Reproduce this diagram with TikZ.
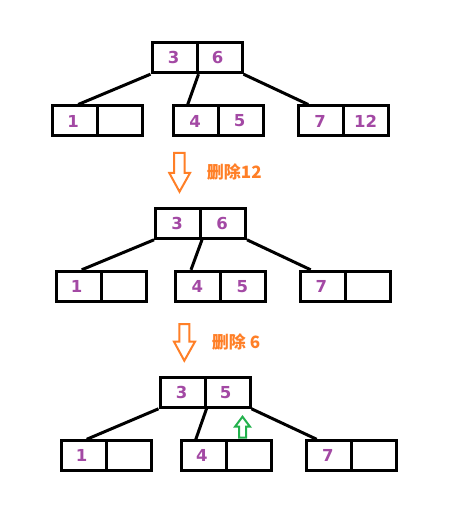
\documentclass[tikz,border=0pt]{standalone}
\usepackage{fontspec}
\setmainfont{DejaVu Sans}
\newfontfamily\cjkfont{Noto Sans CJK SC}
\usetikzlibrary{calc}
\definecolor{numpurple}{HTML}{A349A4}
\definecolor{delorange}{HTML}{FF7F27}
\definecolor{upgreen}{HTML}{22B14C}
\begin{document}
\begin{tikzpicture}[x=1pt,y=-1pt,
  cell/.style={draw=black,line width=3pt,minimum width=45pt,minimum height=30pt,inner sep=0pt,
    font=\fontsize{16.5}{16.5}\selectfont\bfseries,text=numpurple},
  link/.style={draw=black,line width=3pt},
  lbl/.style={font=\cjkfont\fontsize{17}{17}\selectfont\bfseries,text=delorange,anchor=west,inner sep=0pt},
  hollow/.style={draw=delorange,line width=2pt,fill=white,line join=miter},
  uparrow/.style={draw=upgreen,line width=2pt,fill=white,line join=miter}]
\useasboundingbox (0,0) rectangle (472,521);
% ---------- tree 1 ----------
\node[cell] (a1) at (174.5,57.7) {\raisebox{-2pt}{3}\hspace*{2pt}};
\node[cell] (a2) at (219.5,57.7) {\raisebox{-2pt}{6}\hspace*{4pt}};
\node[cell] (a3) at (75.2,121) {\raisebox{-1pt}{1}\hspace*{4pt}};
\node[cell] (a4) at (120.2,121) {};
\node[cell] (a5) at (196.2,121) {\raisebox{-1pt}{4}\hspace*{2pt}};
\node[cell] (a6) at (240.7,121) {\raisebox{-1pt}{5}\hspace*{2pt}};
\node[cell] (a7) at (321.2,121) {\raisebox{-1pt}{7}\hspace*{2pt}};
\node[cell] (a8) at (365.7,121) {\raisebox{-1pt}{12}};
\draw[link] (a1.south west) -- ($(a3.north)+(3,0)$);
\draw[link] (a1.south east) -- ($(a5.north)+(-8.5,0)$);
\draw[link] (a2.south east) -- ($(a7.north)+(-13,0)$);
% ---------- arrow 1 ----------
\draw[hollow] (174,153) -- (184.7,153) -- (184.7,173) -- (190,173) -- (179.5,191.7) -- (169.3,173) -- (174,173) -- cycle;
\node[lbl] (t1) at (206.7,171.7) {删除12};
% ---------- tree 2 ----------
\node[cell] (b1) at (178,223.3) {\raisebox{-2pt}{3}\hspace*{2pt}};
\node[cell] (b2) at (223,223.3) {\raisebox{-2pt}{6}\hspace*{2pt}};
\node[cell] (b3) at (78.7,286.3) {\raisebox{-1pt}{1}\hspace*{4pt}};
\node[cell] (b4) at (123.7,286.3) {};
\node[cell] (b5) at (198.4,286.3) {\raisebox{-1pt}{4}\hspace*{2pt}};
\node[cell] (b6) at (243.4,286.3) {\raisebox{-1pt}{5}\hspace*{2pt}};
\node[cell] (b7) at (323.4,286.3) {\raisebox{-1pt}{7}\hspace*{4pt}};
\node[cell] (b8) at (368.4,286.3) {};
\draw[link] (b1.south west) -- ($(b3.north)+(3,0)$);
\draw[link] (b1.south east) -- ($(b5.north)+(-7.4,0)$);
\draw[link] (b2.south east) -- ($(b7.north)+(-12.7,0)$);
% ---------- arrow 2 ----------
\draw[hollow] (179.3,324) -- (189.3,324) -- (189.3,341.7) -- (195,341.7) -- (184.3,360.7) -- (174,341.7) -- (179.3,341.7) -- cycle;
\node[lbl] (t2) at (211.7,341.7) {删除 6};
% ---------- tree 3 ----------
\node[cell] (c1) at (182.5,392.3) {\raisebox{-2pt}{3}\hspace*{2pt}};
\node[cell] (c2) at (227.5,392.3) {\raisebox{-2pt}{5}\hspace*{4pt}};
\node[cell] (c3) at (83.7,455.8) {\raisebox{-1pt}{1}\hspace*{4pt}};
\node[cell] (c4) at (128.7,455.8) {};
\node[cell] (c5) at (203.8,455.8) {\raisebox{-1pt}{4}\hspace*{4pt}};
\node[cell] (c6) at (248.8,455.8) {};
\node[cell] (c7) at (328.9,455.8) {\raisebox{-1pt}{7}\hspace*{2pt}};
\node[cell] (c8) at (373.9,455.8) {};
\draw[link] (c1.south west) -- ($(c3.north)+(3,0)$);
\draw[link] (c1.south east) -- ($(c5.north)+(-8,0)$);
\draw[link] (c2.south east) -- ($(c7.north)+(-12.2,0)$);
% green up arrow
\draw[uparrow] (239,437.7) -- (246,437.7) -- (246,426.7) -- (250,426.7) -- (242.5,416.7) -- (235,426.7) -- (239,426.7) -- cycle;
\end{tikzpicture}
\end{document}
